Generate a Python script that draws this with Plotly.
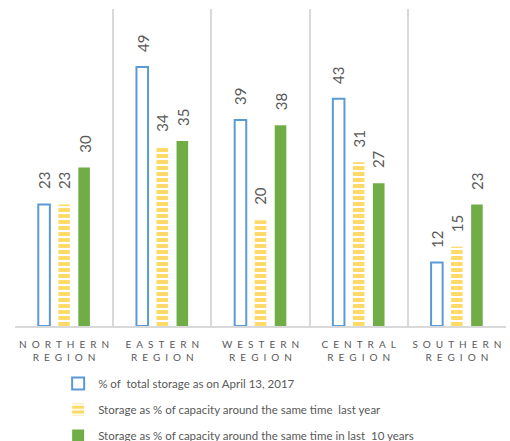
import plotly.graph_objects as go

regions = ["NORTHERN\nREGION", "EASTERN\nREGION", "WESTERN\nREGION", "CENTRAL\nREGION", "SOUTHERN\nREGION"]
current_storage = [23, 49, 39, 43, 12]
last_year = [23, 34, 20, 31, 15]
last_10_years = [30, 35, 38, 27, 23]

series_names = [
    "% of  total storage as on April 13, 2017",
    "Storage as % of capacity around the same time  last year",
    "Storage as % of capacity around the same time in last  10 years",
]

TEXT_GREY = "#595959"
GRID_GREY = "#D9D9D9"
FONT = "Lato"


def spaced(label):
    # letter-spaced, two-line category labels
    lines = label.split("\n")
    return "<br>".join("\u2002".join(list(line)) for line in lines)


xs = list(range(len(regions)))
offset = 0.204
bar_w = 0.118

fig = go.Figure()

fig.add_trace(go.Bar(
    x=[x - offset for x in xs], y=current_storage, width=bar_w,
    name=series_names[0], legendgroup="a",
    marker=dict(color="white", line=dict(color="#5B9BD5", width=2)),
))
fig.add_trace(go.Bar(
    x=xs, y=last_year, width=bar_w,
    name=series_names[1], legendgroup="b",
    marker=dict(color="white", line=dict(width=0),
                pattern=dict(shape="-", fgcolor="#FFD966", bgcolor="white",
                             size=6, solidity=0.65, fillmode="replace")),
))
fig.add_trace(go.Bar(
    x=[x + offset for x in xs], y=last_10_years, width=bar_w,
    name=series_names[2], legendgroup="c",
    marker=dict(color="#70AD47", line=dict(width=0)),
))

# rotated value labels above each bar
for series, dx in ((current_storage, -offset), (last_year, 0), (last_10_years, offset)):
    for x, v in zip(xs, series):
        fig.add_annotation(
            x=x + dx, y=v, text=str(v), showarrow=False, textangle=-90,
            yanchor="bottom", xanchor="center", yshift=13,
            font=dict(family=FONT, size=15, color=TEXT_GREY),
        )

fig.update_layout(
    width=510, height=441,
    margin=dict(l=15, r=4, t=9, b=115, autoexpand=False),
    paper_bgcolor="white", plot_bgcolor="white",
    barmode="overlay",
    showlegend=True,
    legend=dict(
        xref="container", yref="container",
        x=0.114, y=0.163, xanchor="left", yanchor="top",
        orientation="v", traceorder="grouped", tracegroupgap=7,
        font=dict(family=FONT, size=11.5, color=TEXT_GREY),
        bgcolor="rgba(0,0,0,0)",
    ),
    xaxis=dict(
        range=[-0.5, 4.5],
        tickvals=xs, ticktext=[spaced(r) for r in regions],
        tickfont=dict(family=FONT, size=10, color=TEXT_GREY),
        ticks="outside", ticklen=8, tickcolor="rgba(0,0,0,0)",
        showgrid=False, zeroline=False,
        showline=True, linecolor=GRID_GREY, linewidth=1.5,
        minor=dict(tickvals=[i - 0.5 for i in range(len(regions) + 1)],
                   showgrid=True, gridcolor=GRID_GREY, gridwidth=1.5),
        fixedrange=True,
    ),
    yaxis=dict(
        range=[0, 60], visible=False, showgrid=False, zeroline=False,
    ),
)

fig.write_html("out.html")
